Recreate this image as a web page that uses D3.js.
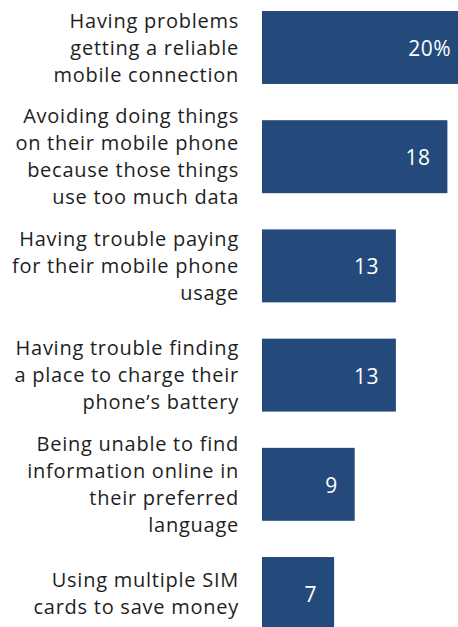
<!DOCTYPE html>
<html>
<head>
<meta charset="utf-8">
<script src="https://cdn.jsdelivr.net/npm/d3@7"></script>
<style>
  html, body { margin: 0; padding: 0; background: #fff; }
  svg { display: block; }
</style>
</head>
<body>
<svg id="chart" width="458" height="627"></svg>
<script>
// Category labels, one entry per line of the wrapped text
const categories = [
  ["Having problems", "getting a reliable", "mobile connection"],
  ["Avoiding doing things", "on their mobile phone", "because those things", "use too much data"],
  ["Having trouble paying", "for their mobile phone", "usage"],
  ["Having trouble finding", "a place to charge their", "phone\u2019s battery"],
  ["Being unable to find", "information online in", "their preferred", "language"],
  ["Using multiple SIM", "cards to save money"]
];
const values = [20, 18, 13, 13, 9, 7];
const valueLabels = ["20%", "18", "13", "13", "9", "7"];

const svg = d3.select("#chart");

const ids = d3.range(values.length);
const y = d3.scaleBand().domain(ids).range([11, 630]).paddingInner(0.332).paddingOuter(0);
const x = d3.scaleLinear().domain([0, 20]).range([262, 468]);

const font = "'Open Sans', 'Noto Sans', sans-serif";
const lineH = 27;

// bars
svg.selectAll("rect.bar").data(ids).join("rect")
  .attr("class", "bar")
  .attr("x", x(0))
  .attr("y", i => y(i))
  .attr("width", i => x(values[i]) - x(0))
  .attr("height", y.bandwidth())
  .attr("fill", "#234a7b");

// value labels inside the bar ends
svg.selectAll("text.val").data(ids).join("text")
  .attr("class", "val")
  .attr("x", i => x(values[i]) - 17)
  .attr("y", i => y(i) + y.bandwidth() / 2)
  .attr("dy", "0.4em")
  .attr("text-anchor", "end")
  .attr("font-family", font)
  .attr("font-size", 21)
  .attr("letter-spacing", 0.5)
  .attr("fill", "#fff")
  .text(i => valueLabels[i]);

// wrapped category labels, right-aligned and centred on each bar
const lab = svg.selectAll("text.cat").data(ids).join("text")
  .attr("class", "cat")
  .attr("text-anchor", "end")
  .attr("font-family", font)
  .attr("font-size", 20)
  .attr("letter-spacing", 0.75)
  .attr("fill", "#1e1e1e");
lab.each(function(i) {
  const lines = categories[i];
  const cy = y(i) + y.bandwidth() / 2;
  const top = cy - (lines.length - 1) * lineH / 2;
  d3.select(this).selectAll("tspan").data(lines).join("tspan")
    .attr("x", 239)
    .attr("y", (d, k) => top + k * lineH)
    .attr("dy", "0.36em")
    .text(d => d);
});
</script>
</body>
</html>
